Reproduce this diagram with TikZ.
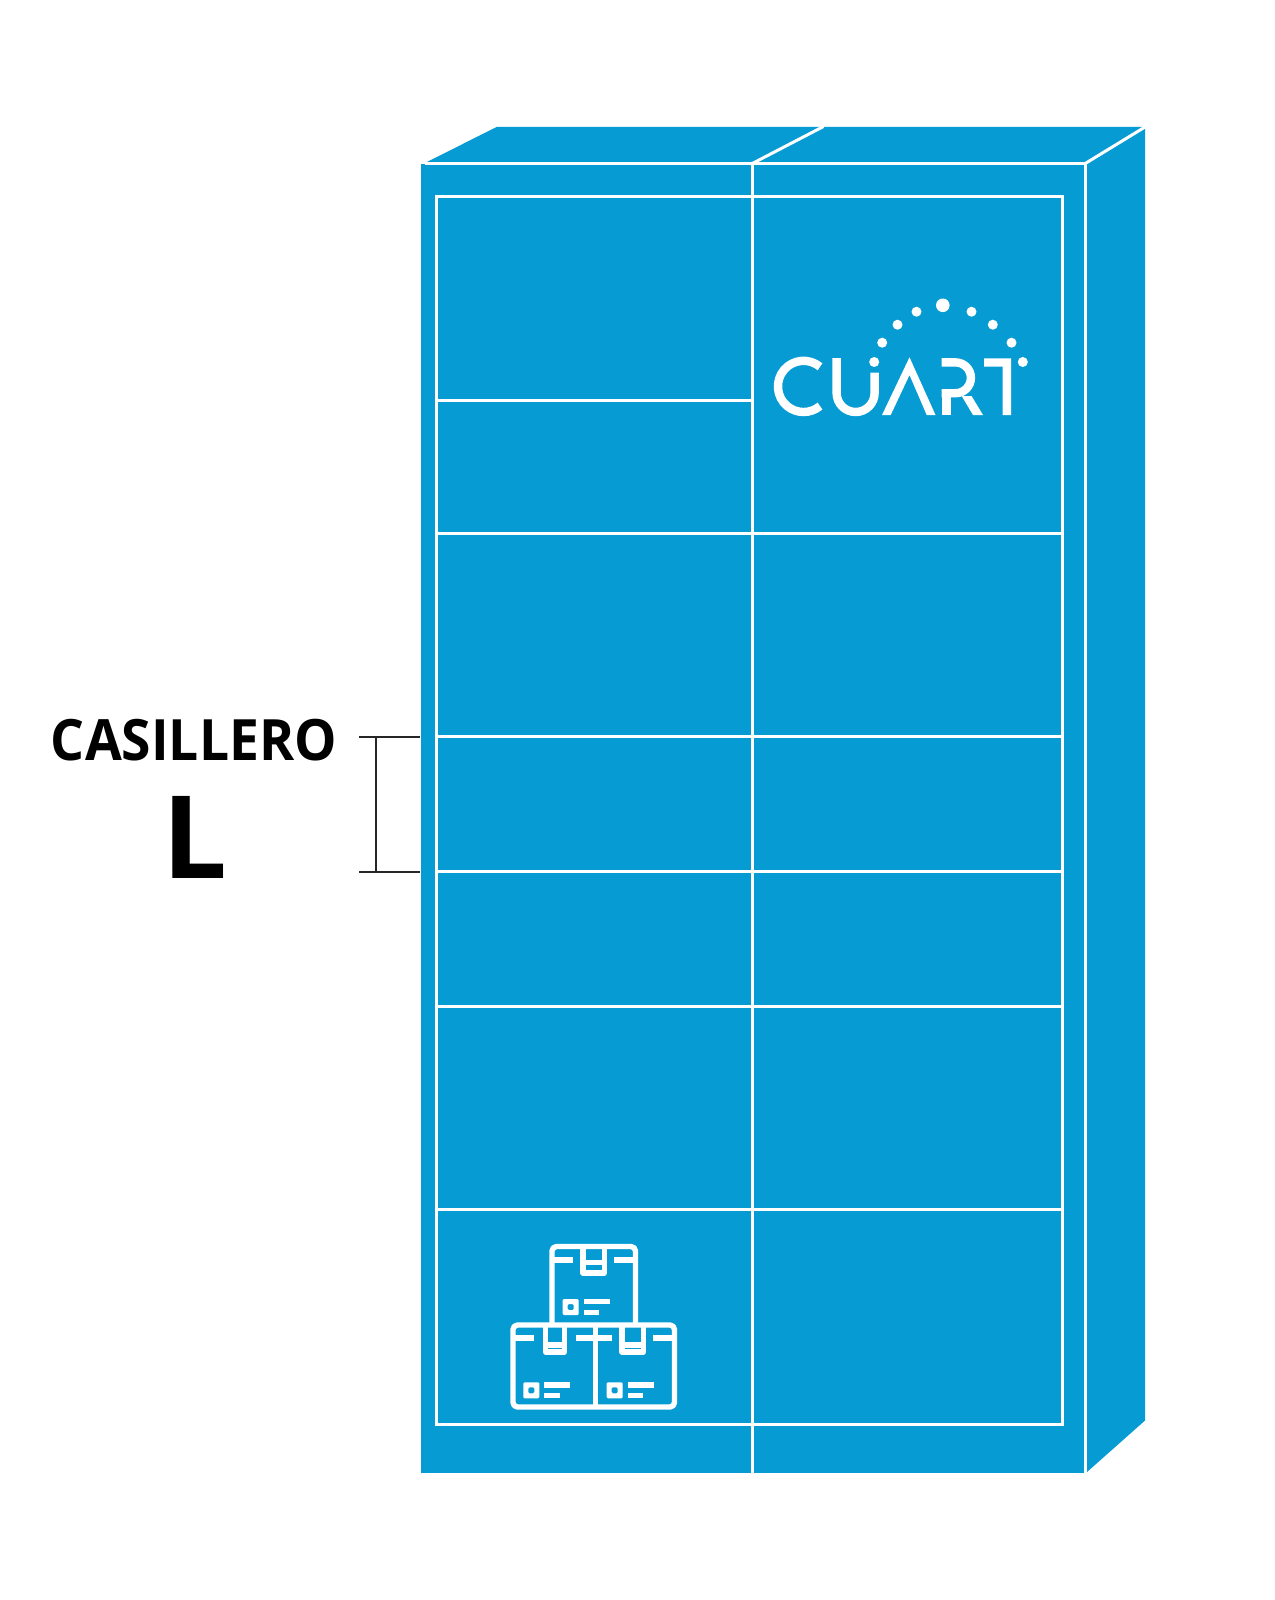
\documentclass[tikz,border=0pt]{standalone}
\usepackage{fontspec}
\setmainfont{Open Sans}
\definecolor{cuartblue}{HTML}{069BD3}
\tikzset{
  px/.style={x=1pt,y=-1pt},
  face/.style={fill=cuartblue,draw=none},
  wline/.style={draw=white,line width=3pt},
  icon/.style={draw=white,line width=5.4pt,line join=round},
  iconthin/.style={fill=white,draw=none},
  logo/.style={draw=white,line width=8.4pt},
  logofill/.style={fill=white,draw=none},
  dim/.style={draw=black!85,line width=2.3pt},
  lbl/.style={inner sep=0pt,anchor=base,text=black,font=\bfseries}
}
\newcommand{\boxlabel}[2]{%
  \fill[iconthin,even odd rule,rounded corners=1.2pt] (#1,#2) rectangle ++(16,16) (#1+5,#2+5) rectangle ++(6,6);
  \fill[iconthin] (#1+21,#2) rectangle ++(26,5.4);
  \fill[iconthin] (#1+21,#2+10.6) rectangle ++(15.6,5.4);
}
\begin{document}
\begin{tikzpicture}[px]
\useasboundingbox (0,0) rectangle (1274,1600);
% body
\fill[face] (421,163.5) rectangle (1084.5,1473);
\fill[face] (426,162.5) -- (496.5,127) -- (1145,127) -- (1086,162.5) -- cycle;
\fill[face] (1087,164) -- (1145,127.5) -- (1145,1420.5) -- (1087,1472) -- cycle;
% edges
\draw[wline] (424.5,163.5) -- (1085.2,163.5);
\draw[wline] (1085.2,163.5) -- (1085.2,1473);
\draw[wline] (1085.2,163.5) -- (1145,127);
\draw[wline] (752.3,163.5) -- (823.5,126.5);
\draw[wline] (752.3,163.5) -- (752.3,1473);
% inner grid
\draw[wline] (436.5,196) rectangle (1062,1424);
\draw[wline] (436.5,400.5) -- (752.3,400.5);
\foreach \yy in {533.5,736.5,871.5,1006.5,1209.5}{
  \draw[wline] (436.5,\yy) -- (1062,\yy);
}
% dimension
\coordinate (dimTopL) at (359,737);
\coordinate (dimTopR) at (420,737);
\coordinate (dimBotL) at (359,872);
\coordinate (dimBotR) at (420,872);
\coordinate (dimA) at (375.7,737);
\coordinate (dimB) at (375.7,872);
\draw[dim] (dimTopL) -- (dimTopR);
\draw[dim] (dimBotL) -- (dimBotR);
\draw[dim] (dimA) -- (dimB);
% labels
\node[lbl,font=\fontsize{57pt}{60pt}\bfseries] (cas) at (194,760) {\scalebox{0.937}[1]{CASILLERO}};
\node[lbl,font=\fontsize{115pt}{120pt}\bfseries] (ell) at (194.5,878) {L};
% logo dots
\foreach \dx/\dy in {882.2/342.7,897.5/324.7,916.5/311.7,971.5/311.7,992.8/324.7,1011.5/342.7,874.2/362,1022.8/362}{
  \fill[logofill] (\dx,\dy) circle (5);
}
\fill[logofill] (942.8,305.3) circle (6.8);
% C
\draw[logo] (820,366.8) arc[start angle=-50,end angle=-310,radius=25.6];
% U
\draw[logo] (836.6,358) -- (836.6,393) arc[start angle=180,end angle=0,radius=19] -- (874.6,372.7);
% A
\fill[logofill] (909.5,357.3) -- (935.5,415) -- (926.7,415) -- (909.5,375) -- (890.7,415) -- (882,415) -- cycle;
% R
\draw[logo] (941.7,362.4) -- (955.5,362.4) arc[start angle=-90,end angle=90,radius=15.4] -- (941.7,393.2);
\fill[logofill] (941.7,390) rectangle (950.5,415);
\fill[logofill] (961.7,396) -- (971.5,396) -- (983,415) -- (973,415) -- cycle;
% T
\fill[logofill] (984,358.3) -- (1011,358.3) -- (1011,415) -- (1002.5,415) -- (1002.5,366.5) -- (984,366.5) -- cycle;
% icon top box
\draw[icon] (552,1325) -- (552,1251) arc[start angle=180,end angle=270,radius=4.5] -- (631,1246.5) arc[start angle=270,end angle=360,radius=4.5] -- (635.5,1325);
\draw[icon] (552,1260) -- (573,1260) (614,1260) -- (635.5,1260);
\draw[icon] (583,1246.5) -- (583,1273) -- (604.5,1273) -- (604.5,1246.5);
\draw[icon] (583,1262.6) -- (604.5,1262.6);
\boxlabel{562.7}{1299}
% icon lower boxes
\draw[icon,rounded corners=4.5pt] (513,1325) rectangle (674.5,1407);
\draw[icon] (595.5,1325) -- (595.5,1407);
\draw[icon] (513,1338) -- (534,1338) (576,1338) -- (611.7,1338) (653.3,1338) -- (674.5,1338);
\draw[icon] (545.5,1325) -- (545.5,1352) -- (564.5,1352) -- (564.5,1325);
\draw[icon] (545.5,1345) -- (564.5,1345);
\draw[icon] (622,1325) -- (622,1352) -- (643.5,1352) -- (643.5,1325);
\draw[icon] (622,1345) -- (643.5,1345);
\boxlabel{523.3}{1382.3}
\boxlabel{606.7}{1382.3}
\end{tikzpicture}
\end{document}
